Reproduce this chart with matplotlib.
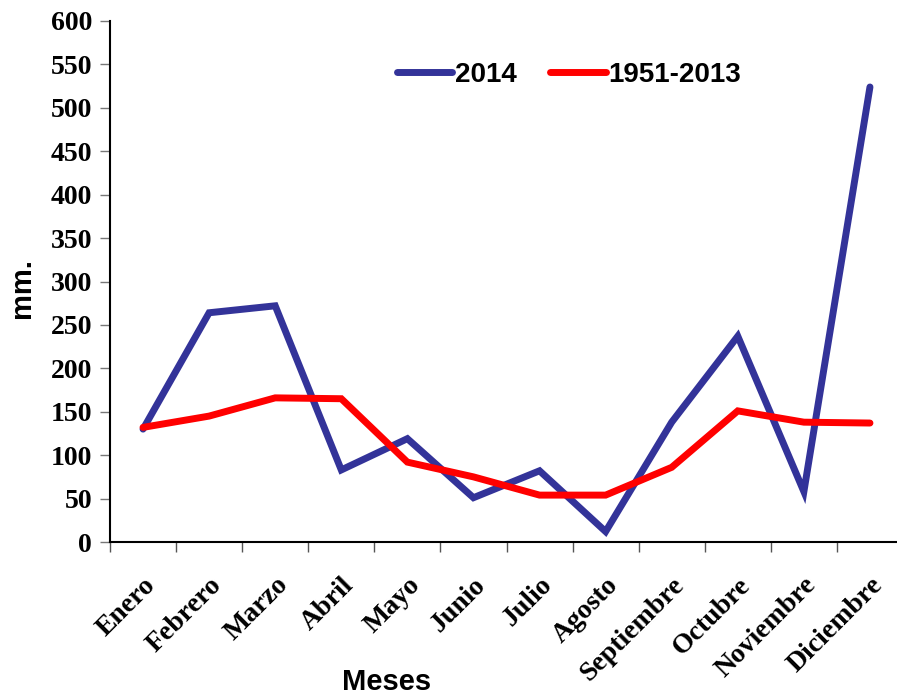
import matplotlib
matplotlib.use("Agg")
import matplotlib.pyplot as plt
import numpy as np

months = ["Enero", "Febrero", "Marzo", "Abril", "Mayo", "Junio", "Julio",
          "Agosto", "Septiembre", "Octubre", "Noviembre", "Diciembre"]
rain_2014 = [130, 264, 272, 83, 119, 51, 82, 12, 138, 237, 58, 524]
rain_1951_2013 = [132, 145, 166, 165, 92, 75, 54, 54, 86, 151, 138, 137]
yticks = list(range(0, 601, 50))

fig = plt.figure(figsize=(8.97, 6.99), dpi=100)
ax = fig.add_axes([110/897, 157/699, 793/897, 521/699])

x = np.arange(len(months))
ax.plot(x, rain_2014, color="#333399", lw=5, solid_capstyle="round",
        solid_joinstyle="miter", label="2014")
ax.plot(x, rain_1951_2013, color="#FF0000", lw=5, solid_capstyle="round",
        solid_joinstyle="miter", label="1951-2013")

ax.set_xlim(-0.5, 11.5)
ax.set_ylim(0, 600)
ax.set_yticks(yticks)
ax.set_yticklabels([str(t) for t in yticks], fontfamily="Liberation Serif",
                   fontweight="bold", fontsize=20)
ax.set_xticks(x)
ax.set_xticklabels(months, rotation=45, ha="right", rotation_mode="anchor",
                   fontfamily="Liberation Serif", fontweight="bold", fontsize=20)
ax.set_xticks(np.arange(-0.5, 12, 1), minor=True)
ax.tick_params(axis="x", which="major", length=0, pad=22)
ax.tick_params(axis="x", which="minor", length=7, width=1, color="#555555")
ax.tick_params(axis="y", length=7, width=1, color="#777777", pad=6)

for s in ["top", "right"]:
    ax.spines[s].set_visible(False)
for s in ["left", "bottom"]:
    ax.spines[s].set_linewidth(1.5)

fig.text(22/897, 1 - 288/699, "mm.", fontfamily="Liberation Sans",
         fontweight="bold", fontsize=21, rotation=90, ha="center", va="center")
fig.text(387/897, 1 - 682/699, "Meses", fontfamily="Liberation Sans",
         fontweight="bold", fontsize=21, ha="center", va="center")

leg = ax.legend(loc="upper left", bbox_to_anchor=(0.33, 0.97), ncol=2,
                frameon=False, handlelength=2.0, handletextpad=0.1,
                columnspacing=1.2,
                prop={"family": "Liberation Sans", "weight": "bold", "size": 20})

fig.savefig("out.png", dpi=100)
